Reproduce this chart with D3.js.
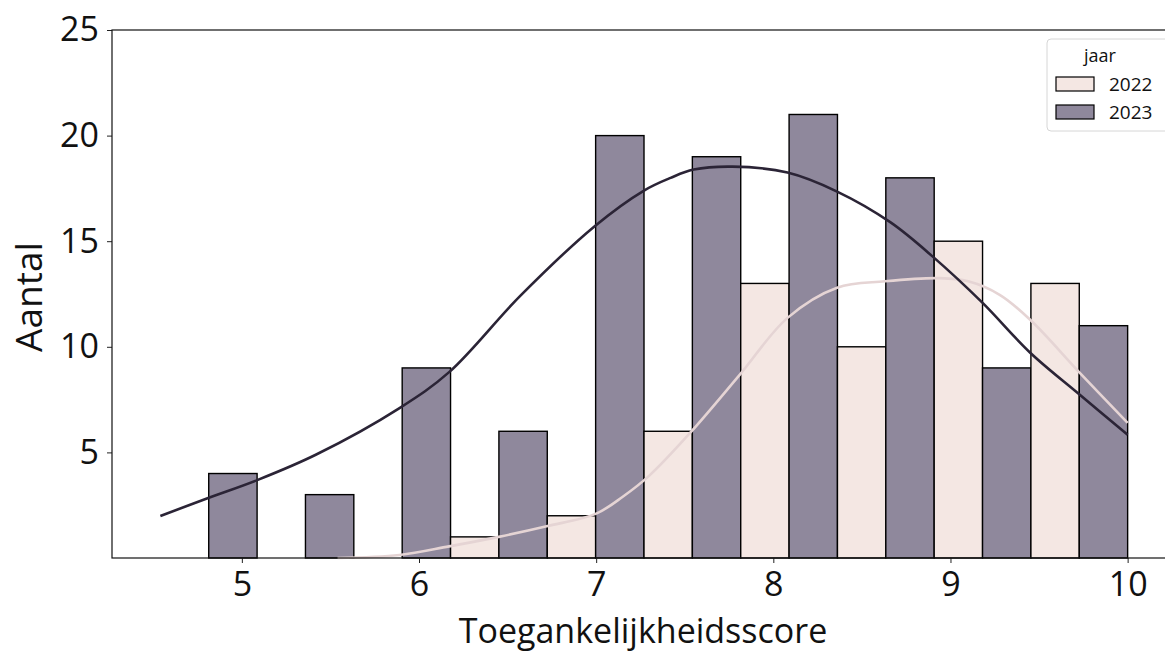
<!DOCTYPE html>
<html>
<head>
<meta charset="utf-8">
<script src="https://cdn.jsdelivr.net/npm/d3@7"></script>
<style>
  body { margin: 0; background: #fff; }
  text { font-family: "Open Sans", "Noto Sans", sans-serif; fill: #111; }
</style>
</head>
<body>
<svg id="chart" width="1165" height="655"></svg>
<script>
// bins (edges) and counts per year
var binEdges = [4.54, 5.086, 5.632, 6.178, 6.724, 7.27, 7.816, 8.362, 8.908, 9.454, 10.0]
var counts2022 = [0, 0, 0, 1, 2, 6, 13, 10, 15, 13]
var counts2023 = [4, 3, 9, 6, 20, 19, 21, 18, 9, 11]
var years = ["2022", "2023"]

// kde curves
var kdeX2023 = [4.54, 4.81, 5.09, 5.42, 5.89, 6.17, 6.57, 6.99, 7.27, 7.42, 7.55, 7.77, 8.08, 8.36, 8.66, 8.90, 9.18, 9.45, 9.73, 10.0]
var kdeY2023 = [1.99, 2.84, 3.7, 4.9, 7.1, 8.8, 12.4, 15.7, 17.4, 18.0, 18.39, 18.53, 18.25, 17.35, 15.9, 14.27, 12.09, 9.72, 7.73, 5.83]
var kdeX2022 = [5.54, 5.89, 6.17, 6.45, 6.72, 7.0, 7.15, 7.30, 7.53, 7.81, 8.08, 8.36, 8.63, 8.94, 9.10, 9.28, 9.45, 9.73, 10.0]
var kdeY2022 = [0, 0.14, 0.55, 1.0, 1.5, 2.1, 2.9, 3.9, 5.92, 8.67, 11.37, 12.8, 13.1, 13.25, 13.1, 12.45, 11.28, 8.77, 6.4]

var xTicks = [5, 6, 7, 8, 9, 10]
var yTicks = [5, 10, 15, 20, 25]

var fills = { "2022": "#f4e7e3", "2023": "#8f889c" }
var lineColors = { "2022": "#e5d4d4", "2023": "#2b2436" }

var margin = { left: 112, top: 30 }
var width = 1176 - margin.left
var height = 558 - margin.top

var svg = d3.select("#chart")
var g = svg.append("g").attr("transform", "translate(" + margin.left + "," + margin.top + ")")

var x = d3.scaleLinear().domain([4.267, 10.273]).range([0, width])
var y = d3.scaleLinear().domain([0, 25]).range([height, 0])

// bars: each bin split in two, 2022 left, 2023 right
var bars = []
for (var i = 0; i < counts2022.length; i++) {
  var mid = (binEdges[i] + binEdges[i + 1]) / 2
  bars.push({ year: "2022", x0: binEdges[i], x1: mid, n: counts2022[i] })
  bars.push({ year: "2023", x0: mid, x1: binEdges[i + 1], n: counts2023[i] })
}

g.append("g")
  .selectAll("rect")
  .data(bars.filter(function(d) { return d.n > 0 }))
  .enter()
  .append("rect")
    .attr("x", function(d) { return x(d.x0) })
    .attr("width", function(d) { return x(d.x1) - x(d.x0) })
    .attr("y", function(d) { return y(d.n) })
    .attr("height", function(d) { return y(0) - y(d.n) })
    .style("fill", function(d) { return fills[d.year] })
    .style("stroke", "#000")
    .style("stroke-width", 1.4)

var line = d3.line()
  .x(function(d) { return x(d[0]) })
  .y(function(d) { return y(d[1]) })
  .curve(d3.curveCatmullRom.alpha(0.5))

g.append("path")
  .datum(d3.zip(kdeX2022, kdeY2022))
  .attr("d", line)
  .style("fill", "none")
  .style("stroke", lineColors["2022"])
  .style("stroke-width", 2.6)

g.append("path")
  .datum(d3.zip(kdeX2023, kdeY2023))
  .attr("d", line)
  .style("fill", "none")
  .style("stroke", lineColors["2023"])
  .style("stroke-width", 2.6)

// axes
var xAxis = g.append("g")
  .attr("transform", "translate(0," + height + ")")
  .call(d3.axisBottom(x).tickValues(xTicks).tickSize(5).tickPadding(9).tickFormat(d3.format("d")))
var yAxis = g.append("g")
  .call(d3.axisLeft(y).tickValues(yTicks).tickSize(5).tickPadding(8).tickFormat(d3.format("d")))

xAxis.select(".domain").remove()
yAxis.select(".domain").remove()
xAxis.selectAll("text").attr("font-size", 34).style("font-family", "'Open Sans', sans-serif").attr("fill", "#111")
yAxis.selectAll("text").attr("font-size", 34).style("font-family", "'Open Sans', sans-serif").attr("fill", "#111")
xAxis.selectAll("line").style("stroke", "#222")
yAxis.selectAll("line").style("stroke", "#222")

// frame
g.append("rect")
  .attr("x", 0).attr("y", 0)
  .attr("width", width).attr("height", height)
  .style("fill", "none")
  .style("stroke", "#111")
  .style("stroke-width", 1.2)

svg.append("text")
  .attr("x", 643).attr("y", 643)
  .attr("text-anchor", "middle")
  .attr("font-size", 34)
  .text("Toegankelijkheidsscore")

svg.append("text")
  .attr("transform", "translate(42,297) rotate(-90)")
  .attr("text-anchor", "middle")
  .attr("font-size", 37)
  .text("Aantal")

// legend
var legend = svg.append("g").attr("transform", "translate(1047,39)")
legend.append("rect")
  .attr("width", 130).attr("height", 92)
  .attr("rx", 4)
  .style("fill", "#fff").style("fill-opacity", 0.8)
  .style("stroke", "#d6d6d6")
legend.append("text")
  .attr("x", 53).attr("y", 23)
  .attr("text-anchor", "middle")
  .attr("font-size", 18)
  .text("jaar")
years.forEach(function(yr, k) {
  legend.append("rect")
    .attr("x", 9).attr("y", 38 + k * 28)
    .attr("width", 38).attr("height", 14)
    .style("fill", fills[yr]).style("stroke", "#000").style("stroke-width", 1.2)
  legend.append("text")
    .attr("x", 62).attr("y", 52 + k * 28)
    .attr("font-size", 19)
    .text(yr)
})
</script>
</body>
</html>
